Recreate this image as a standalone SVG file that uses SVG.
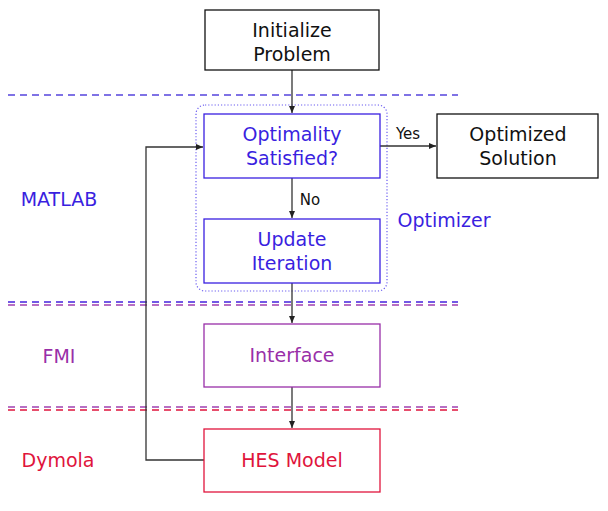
<svg xmlns="http://www.w3.org/2000/svg" width="608" height="511" viewBox="0 0 608 511">
<defs>
<marker id="ah" markerWidth="8" markerHeight="8" refX="7" refY="4" orient="auto" markerUnits="userSpaceOnUse">
<path d="M0,1 L7,4 L0,7 z" fill="#222"/>
</marker>
</defs>
<style>
text{font-family:"DejaVu Sans","Liberation Sans",sans-serif;font-size:19px;text-anchor:middle}
.k{fill:#111}.b{fill:#3a1fe0}.p{fill:#992fa8}.r{fill:#e0143c}
.box{fill:#fff;stroke-width:1.3}
.conn{fill:none;stroke:#333;stroke-width:1.3}
.dash{stroke-width:1.5;stroke-dasharray:7,5}
</style>
<g id="lanes">
<line class="dash" x1="8" y1="95" x2="458" y2="95" stroke="#5544dd"/>
<line class="dash" x1="8" y1="302" x2="458" y2="302" stroke="#4422dd"/>
<line class="dash" x1="8" y1="305" x2="458" y2="305" stroke="#a040b0"/>
<line class="dash" x1="8" y1="407" x2="458" y2="407" stroke="#a040b0"/>
<line class="dash" x1="8" y1="410" x2="458" y2="410" stroke="#e0143c"/>
<text class="b" x="59" y="206">MATLAB</text>
<text class="p" x="59" y="363">FMI</text>
<text class="r" x="58" y="467">Dymola</text>
</g>
<g id="optimizer">
<rect x="196" y="105" width="191" height="186" rx="9" fill="none" stroke="#6a5cf0" stroke-width="1.2" stroke-dasharray="1.2,2"/>
<text class="b" x="444" y="227">Optimizer</text>
</g>
<g id="connectors">
<line class="conn" x1="292" y1="70" x2="292" y2="113" marker-end="url(#ah)"/>
<line class="conn" x1="292" y1="178" x2="292" y2="218" marker-end="url(#ah)"/>
<line class="conn" x1="380" y1="146" x2="436" y2="146" marker-end="url(#ah)"/>
<line class="conn" x1="292" y1="283" x2="292" y2="323" marker-end="url(#ah)"/>
<line class="conn" x1="292" y1="387" x2="292" y2="428" marker-end="url(#ah)"/>
<polyline class="conn" points="204,460 146,460 146,147 203,147" marker-end="url(#ah)"/>
<text class="k" x="408" y="139" style="font-size:15px">Yes</text>
<text class="k" x="310" y="205" style="font-size:15px">No</text>
</g>
<g id="init">
<rect class="box" x="205" y="10" width="174" height="60" stroke="#111"/>
<text class="k" x="292" y="37">Initialize</text>
<text class="k" x="292" y="61">Problem</text>
</g>
<g id="optimality">
<rect class="box" x="204" y="114" width="176" height="64" stroke="#3a1fe0"/>
<text class="b" x="292" y="141">Optimality</text>
<text class="b" x="292" y="165">Satisfied?</text>
</g>
<g id="solution">
<rect class="box" x="437" y="114" width="161" height="64" stroke="#111"/>
<text class="k" x="518" y="141">Optimized</text>
<text class="k" x="518" y="165">Solution</text>
</g>
<g id="update">
<rect class="box" x="204" y="219" width="176" height="64" stroke="#3a1fe0"/>
<text class="b" x="292" y="246">Update</text>
<text class="b" x="292" y="270">Iteration</text>
</g>
<g id="interface">
<rect class="box" x="204" y="324" width="176" height="63" stroke="#992fa8"/>
<text class="p" x="292" y="362">Interface</text>
</g>
<g id="hes">
<rect class="box" x="204" y="429" width="176" height="63" stroke="#e0143c"/>
<text class="r" x="292" y="467">HES Model</text>
</g>
</svg>
